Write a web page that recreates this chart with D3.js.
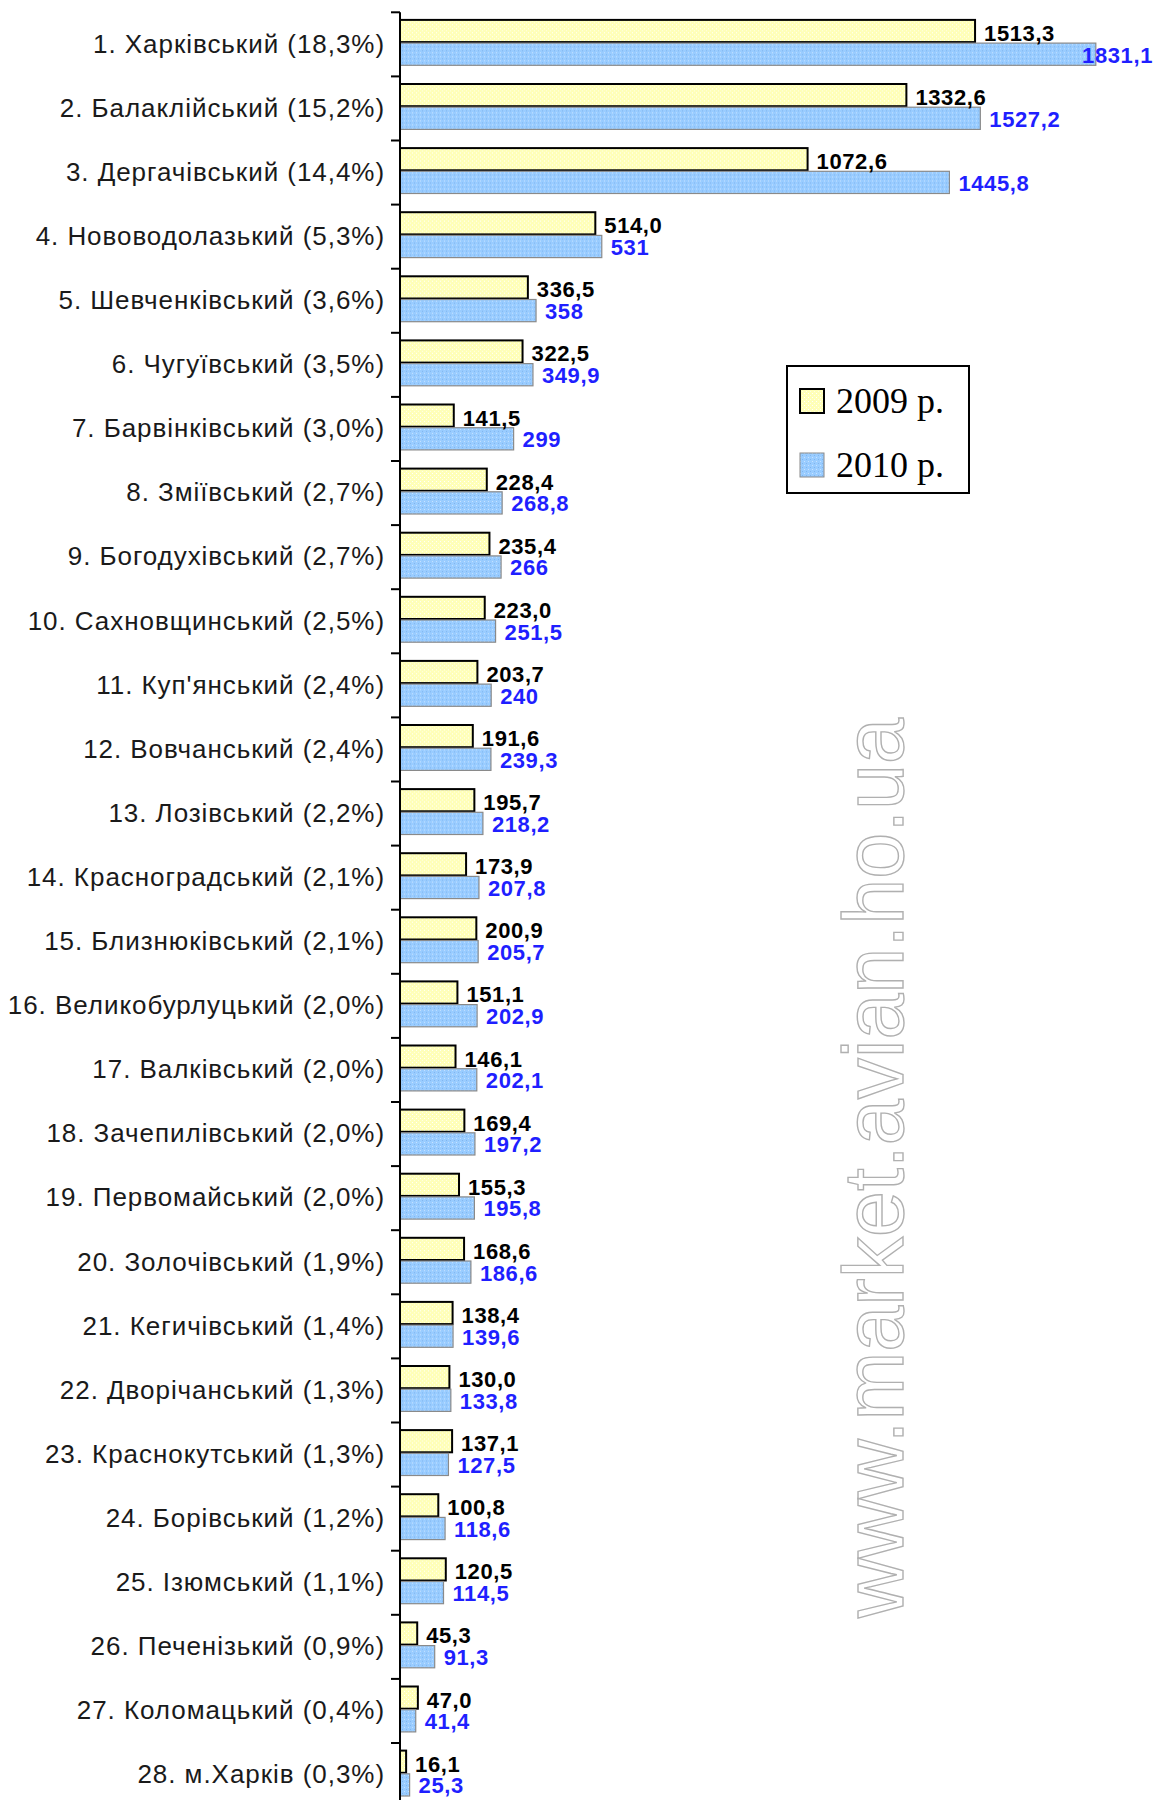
<!DOCTYPE html>
<html>
<head>
<meta charset="utf-8">
<script src="https://cdn.jsdelivr.net/npm/d3@7"></script>
<style>
  body { margin: 0; background: #fff; }
  svg { display: block; }
</style>
</head>
<body>
<div id="container"></div>
<script>
"use strict";

const width = 1157;
const height = 1800;

const axisX = 400;
const plotTop = 12.3;
const rowStep = 64.1;

const yellowFill = "#ffffb8";
const blueFill = "#99ccff";
const blueText = "#1f1fff";

// районы (с долей в %)
const districts = [
  "1. Харківський (18,3%)",
  "2. Балаклійський (15,2%)",
  "3. Дергачівський (14,4%)",
  "4. Нововодолазький (5,3%)",
  "5. Шевченківський (3,6%)",
  "6. Чугуївський (3,5%)",
  "7. Барвінківський (3,0%)",
  "8. Зміївський (2,7%)",
  "9. Богодухівський (2,7%)",
  "10. Сахновщинський (2,5%)",
  "11. Куп'янський (2,4%)",
  "12. Вовчанський (2,4%)",
  "13. Лозівський (2,2%)",
  "14. Красноградський (2,1%)",
  "15. Близнюківський (2,1%)",
  "16. Великобурлуцький (2,0%)",
  "17. Валківський (2,0%)",
  "18. Зачепилівський (2,0%)",
  "19. Первомайський (2,0%)",
  "20. Золочівський (1,9%)",
  "21. Кегичівський (1,4%)",
  "22. Дворічанський (1,3%)",
  "23. Краснокутський (1,3%)",
  "24. Борівський (1,2%)",
  "25. Ізюмський (1,1%)",
  "26. Печенізький (0,9%)",
  "27. Коломацький (0,4%)",
  "28. м.Харків (0,3%)",
];

const values2009 = [
  1513.3, 1332.6, 1072.6, 514.0, 336.5, 322.5, 141.5, 228.4, 235.4, 223.0,
  203.7, 191.6, 195.7, 173.9, 200.9, 151.1, 146.1, 169.4, 155.3, 168.6,
  138.4, 130.0, 137.1, 100.8, 120.5, 45.3, 47.0, 16.1,
];

const values2010 = [
  1831.1, 1527.2, 1445.8, 531, 358, 349.9, 299, 268.8, 266, 251.5,
  240, 239.3, 218.2, 207.8, 205.7, 202.9, 202.1, 197.2, 195.8, 186.6,
  139.6, 133.8, 127.5, 118.6, 114.5, 91.3, 41.4, 25.3,
];

const seriesNames = ["2009 р.", "2010 р."];
const watermark = "www.market.avian.ho.ua";

const fmt2009 = (v) => v.toFixed(1).replace(".", ",");
const fmt2010 = (v) =>
  Number.isInteger(v) ? String(v) : v.toFixed(1).replace(".", ",");

const rows = districts.map((name, i) => ({
  name,
  bars: [
    { key: "2009", value: values2009[i], label: fmt2009(values2009[i]) },
    { key: "2010", value: values2010[i], label: fmt2010(values2010[i]) },
  ],
}));

const xScale = d3.scaleLinear().domain([0, 2000]).range([axisX, axisX + 760]);

const yScale = d3
  .scaleBand()
  .domain(districts)
  .range([plotTop, plotTop + rowStep * districts.length]);

const subScale = d3
  .scaleBand()
  .domain(["2009", "2010"])
  .range([7.6, 54]);

const svg = d3
  .select("#container")
  .append("svg")
  .attr("width", width)
  .attr("height", height);

// dotted fills, like the old excel patterns
const defs = svg.append("defs");

const yPat = defs
  .append("pattern")
  .attr("id", "pat-2009")
  .attr("width", 4)
  .attr("height", 4)
  .attr("patternUnits", "userSpaceOnUse");
yPat.append("rect").attr("width", 4).attr("height", 4).attr("fill", yellowFill);
yPat.append("rect").attr("x", 0).attr("y", 0).attr("width", 1).attr("height", 1).attr("fill", "#ffffff");
yPat.append("rect").attr("x", 2).attr("y", 2).attr("width", 1).attr("height", 1).attr("fill", "#ffffe8");

const bPat = defs
  .append("pattern")
  .attr("id", "pat-2010")
  .attr("width", 4)
  .attr("height", 4)
  .attr("patternUnits", "userSpaceOnUse");
bPat.append("rect").attr("width", 4).attr("height", 4).attr("fill", blueFill);
bPat.append("rect").attr("x", 0).attr("y", 0).attr("width", 1).attr("height", 1).attr("fill", "#c8e2ff");
bPat.append("rect").attr("x", 2).attr("y", 2).attr("width", 1).attr("height", 1).attr("fill", "#80b4ee");

// watermark
svg
  .append("text")
  .attr("transform", `translate(903, 1618) rotate(-90)`)
  .attr("textLength", 900)
  .attr("lengthAdjust", "spacingAndGlyphs")
  .style("font-family", "'Liberation Sans', Arial, sans-serif")
  .style("font-size", "86px")
  .attr("fill", "#ffffff")
  .attr("stroke", "#b0b0b0")
  .attr("stroke-width", 1.4)
  .text(watermark);

// bars
const groups = svg
  .selectAll("g.row")
  .data(rows)
  .enter()
  .append("g")
  .attr("class", "row")
  .attr("transform", (d) => `translate(0, ${yScale(d.name)})`);

groups
  .selectAll("rect")
  .data((d) => d.bars)
  .enter()
  .append("rect")
  .attr("x", xScale(0))
  .attr("y", (d) => subScale(d.key))
  .attr("width", (d) => xScale(d.value) - xScale(0))
  .attr("height", subScale.bandwidth() - 1)
  .attr("fill", (d) => `url(#pat-${d.key})`)
  .attr("stroke", (d) => (d.key === "2009" ? "#000" : "#8a8a8a"))
  .attr("stroke-width", (d) => (d.key === "2009" ? 2 : 1.2));

// value labels
groups
  .selectAll("text.val")
  .data((d) => d.bars)
  .enter()
  .append("text")
  .attr("class", "val")
  .attr("y", (d) => subScale(d.key) + subScale.bandwidth() / 2 + (d.key === "2009" ? 1.5 : 0))
  .attr("dy", "0.36em")
  .style("font-family", "'Liberation Sans', Arial, sans-serif")
  .style("font-weight", "bold")
  .style("font-size", "22px")
  .style("letter-spacing", "0.6px")
  .attr("fill", (d) => (d.key === "2009" ? "#000" : blueText))
  .text((d) => d.label)
  .attr("x", function (d) {
    const w = this.getComputedTextLength();
    return Math.min(xScale(d.value) + 9, width - 4 - w);
  });

// axis
const yAxis = d3.axisLeft(yScale).tickSize(0).tickPadding(15);

const axisG = svg
  .append("g")
  .attr("transform", `translate(${axisX}, 0)`)
  .call(yAxis);

axisG.select(".domain").remove();
axisG
  .selectAll(".tick text")
  .style("font-family", "'Liberation Sans', Arial, sans-serif")
  .style("font-size", "26px")
  .style("letter-spacing", "0.95px")
  .attr("fill", "#1a1a1a");

axisG
  .append("line")
  .attr("x1", 0)
  .attr("x2", 0)
  .attr("y1", plotTop)
  .attr("y2", height)
  .attr("stroke", "#000")
  .attr("stroke-width", 2);

axisG
  .selectAll("line.sep")
  .data(d3.range(districts.length))
  .enter()
  .append("line")
  .attr("class", "sep")
  .attr("x1", -9)
  .attr("x2", 0)
  .attr("y1", (i) => yScale(districts[i]))
  .attr("y2", (i) => yScale(districts[i]))
  .attr("stroke", "#000")
  .attr("stroke-width", 2);

// legend
const legend = svg.append("g").attr("transform", "translate(787, 366)");

legend
  .append("rect")
  .attr("width", 182)
  .attr("height", 127)
  .attr("fill", "#fff")
  .attr("stroke", "#000")
  .attr("stroke-width", 2);

const legendItems = legend
  .selectAll("g.item")
  .data(seriesNames)
  .enter()
  .append("g")
  .attr("class", "item")
  .attr("transform", (_d, i) => `translate(13, ${23 + i * 64})`);

legendItems
  .append("rect")
  .attr("width", 24)
  .attr("height", 24)
  .attr("fill", (_d, i) => (i === 0 ? "url(#pat-2009)" : "url(#pat-2010)"))
  .attr("stroke", (_d, i) => (i === 0 ? "#000" : "#8a8a8a"))
  .attr("stroke-width", (_d, i) => (i === 0 ? 2 : 1));

legendItems
  .append("text")
  .attr("x", 36)
  .attr("y", 24)
  .style("font-family", "'Liberation Serif', 'Times New Roman', serif")
  .style("font-size", "36px")
  .attr("fill", "#000")
  .text((d) => d);
</script>
</body>
</html>
